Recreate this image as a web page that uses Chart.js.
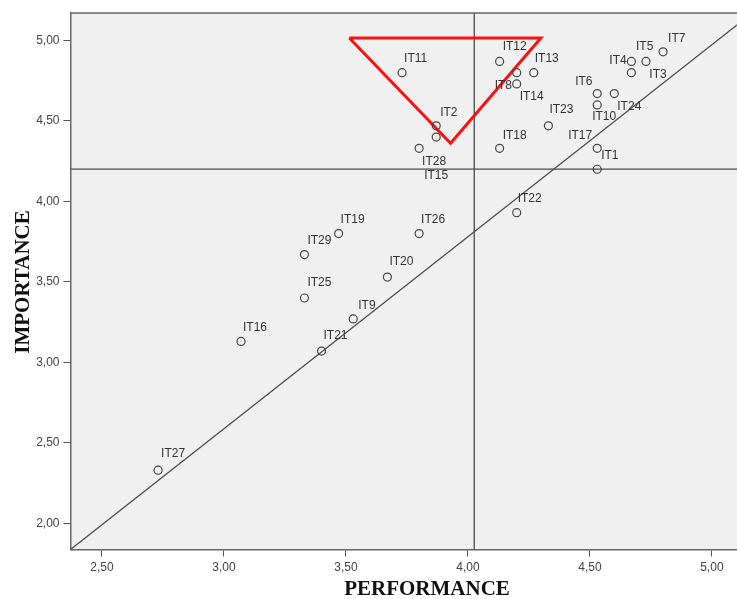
<!DOCTYPE html>
<html>
<head>
<meta charset="utf-8">
<script src="https://cdn.jsdelivr.net/npm/chart.js@4.4.1/dist/chart.umd.min.js"></script>
<style>
  body { margin: 0; background: #fff; }
</style>
</head>
<body>
<canvas id="ipaChart" width="737" height="599"></canvas>
<script>
// items: performance (x) / importance (y)
const items = ['IT1', 'IT2', 'IT3', 'IT4', 'IT5', 'IT6', 'IT7', 'IT8', 'IT9', 'IT10',
    'IT11', 'IT12', 'IT13', 'IT14', 'IT15', 'IT16', 'IT17', 'IT18', 'IT19', 'IT20',
    'IT21', 'IT22', 'IT23', 'IT24', 'IT25', 'IT26', 'IT27', 'IT28', 'IT29'];
const performance = [4.53, 3.87, 4.67, 4.67, 4.73, 4.53, 4.80, 4.20, 3.53, 4.53,
    3.73, 4.13, 4.27, 4.20, 3.87, 3.07, 4.53, 4.13, 3.47, 3.67,
    3.40, 4.20, 4.33, 4.60, 3.33, 3.80, 2.73, 3.80, 3.33];
const importance = [4.20, 4.47, 4.80, 4.87, 4.87, 4.67, 4.93, 4.80, 3.27, 4.60,
    4.80, 4.87, 4.80, 4.73, 4.40, 3.13, 4.33, 4.33, 3.80, 3.53,
    3.07, 3.93, 4.47, 4.67, 3.40, 3.80, 2.33, 4.33, 3.67];

const xTicks = [2.5, 3.0, 3.5, 4.0, 4.5, 5.0];
const yTicks = [2.0, 2.5, 3.0, 3.5, 4.0, 4.5, 5.0];
const xRange = [2.371, 5.103];
const yRange = [1.837, 5.171];

const meanPerformance = 4.026;
const meanImportance = 4.201;
const diagonalX = [2.371, 5.103];
const diagonalY = [1.837, 5.097];
const triangleX = [3.514, 4.299, 3.929, 3.514];
const triangleY = [5.016, 5.016, 4.361, 5.016];

// where each label sits relative to its marker (px)
const labelOffsets = {
    IT1: [4, -14], IT2: [4, -13], IT3: [18, 2], IT4: [-22, -1], IT5: [-10, -15],
    IT6: [-22, -12], IT7: [5, -13], IT8: [-22, 13], IT9: [5, -13], IT10: [-5, 12],
    IT12: [3, -15], IT13: [1, -14], IT14: [3, 13], IT15: [-12, 39], IT17: [-29, -13],
    IT18: [3, -13], IT20: [2, -15], IT21: [2, -15], IT22: [1, -14], IT23: [1, -16],
    IT24: [3, 13], IT25: [3, -15], IT27: [3, -16], IT28: [3, 13], IT29: [3, -14]
};

const lineColor = '#4a4a4a';
const comma = v => v.toFixed(2).replace('.', ',');

const plotFrame = {
    id: 'plotFrame',
    beforeDraw(chart) {
        const {ctx, chartArea: a} = chart;
        ctx.save();
        ctx.fillStyle = '#f0f0f0';
        ctx.fillRect(a.left, a.top, a.right - a.left, a.bottom - a.top);
        ctx.restore();
    },
    afterDraw(chart) {
        const {ctx, chartArea: a} = chart;
        ctx.save();
        ctx.strokeStyle = '#666';
        ctx.lineWidth = 1.5;
        ctx.beginPath();
        ctx.moveTo(a.left, a.top);
        ctx.lineTo(a.right, a.top);
        ctx.stroke();

        // axis titles
        ctx.fillStyle = '#111';
        ctx.font = 'bold 21px "Liberation Serif", "Times New Roman", serif';
        ctx.textAlign = 'center';
        ctx.textBaseline = 'middle';
        ctx.fillText('PERFORMANCE', 427, 590);
        ctx.translate(24, 282);
        ctx.rotate(-Math.PI / 2);
        ctx.fillText('IMPORTANCE', 0, 0);
        ctx.restore();
    }
};

const pointLabels = {
    id: 'pointLabels',
    afterDatasetsDraw(chart) {
        const {ctx} = chart;
        const meta = chart.getDatasetMeta(0);
        ctx.save();
        ctx.font = '12px "Liberation Sans", Arial, sans-serif';
        ctx.fillStyle = '#333';
        ctx.textAlign = 'left';
        ctx.textBaseline = 'middle';
        meta.data.forEach((pt, i) => {
            const off = labelOffsets[items[i]] || [2, -14];
            ctx.fillText(items[i], pt.x + off[0], pt.y + off[1]);
        });
        ctx.restore();
    }
};

const canvas = document.getElementById('ipaChart');

new Chart(canvas, {
    type: 'scatter',
    data: {
        datasets: [
            {
                label: 'items',
                data: items.map((name, i) => ({x: performance[i], y: importance[i]})),
                pointStyle: 'circle',
                pointRadius: 4,
                pointBorderWidth: 1.2,
                pointBorderColor: '#444',
                pointBackgroundColor: 'rgba(0,0,0,0)',
                order: 0
            },
            {
                label: 'triangle',
                data: triangleX.map((x, i) => ({x: x, y: triangleY[i]})),
                showLine: true,
                borderColor: '#ff1010',
                borderWidth: 3,
                pointRadius: 0,
                order: 1
            },
            {
                label: 'diagonal',
                data: diagonalX.map((x, i) => ({x: x, y: diagonalY[i]})),
                showLine: true,
                borderColor: lineColor,
                borderWidth: 1.3,
                pointRadius: 0,
                order: 2
            },
            {
                label: 'meanX',
                data: [{x: meanPerformance, y: yRange[0]}, {x: meanPerformance, y: yRange[1]}],
                showLine: true,
                borderColor: lineColor,
                borderWidth: 1.3,
                pointRadius: 0,
                order: 3
            },
            {
                label: 'meanY',
                data: [{x: xRange[0], y: meanImportance}, {x: xRange[1], y: meanImportance}],
                showLine: true,
                borderColor: lineColor,
                borderWidth: 1.3,
                pointRadius: 0,
                order: 4
            }
        ]
    },
    options: {
        responsive: false,
        animation: false,
        layout: {autoPadding: false, padding: {top: 13, right: 0, left: 0, bottom: 0}},
        plugins: {
            legend: {display: false},
            tooltip: {enabled: false}
        },
        scales: {
            x: {
                type: 'linear',
                min: xRange[0],
                max: xRange[1],
                afterBuildTicks: s => { s.ticks = xTicks.map(v => ({value: v})); },
                afterFit: s => { s.height = 49.5; s.paddingLeft = 0; s.paddingRight = 0; },
                grid: {drawOnChartArea: false, drawTicks: true, tickLength: 7, color: '#555'},
                border: {display: true, color: '#666', width: 1.5},
                ticks: {
                    callback: v => comma(v),
                    padding: 4,
                    maxRotation: 0,
                    color: '#444',
                    font: {family: '"Liberation Sans", Arial, sans-serif', size: 12}
                }
            },
            y: {
                type: 'linear',
                min: yRange[0],
                max: yRange[1],
                afterBuildTicks: s => { s.ticks = yTicks.map(v => ({value: v})); },
                afterFit: s => { s.width = 70.5; s.paddingTop = 0; s.paddingBottom = 0; },
                grid: {drawOnChartArea: false, drawTicks: true, tickLength: 7, color: '#555'},
                border: {display: true, color: '#666', width: 1.5},
                ticks: {
                    callback: v => comma(v),
                    padding: 4,
                    color: '#444',
                    font: {family: '"Liberation Sans", Arial, sans-serif', size: 12}
                }
            }
        }
    },
    plugins: [plotFrame, pointLabels]
});
</script>
</body>
</html>
